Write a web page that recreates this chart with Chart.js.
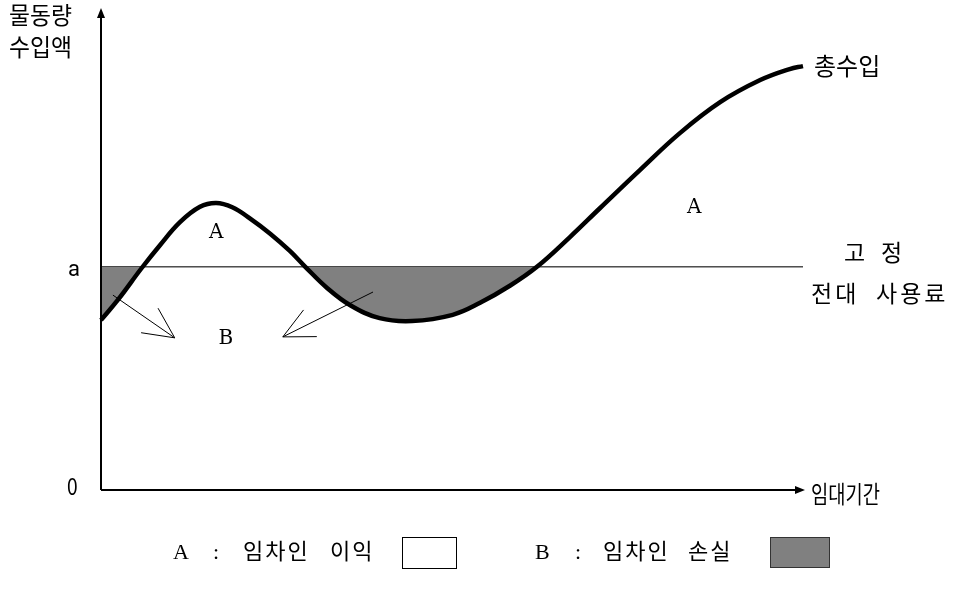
<!DOCTYPE html>
<html>
<head>
<meta charset="utf-8">
<script src="https://cdn.jsdelivr.net/npm/chart.js@4"></script>
<style>
  html, body { margin: 0; padding: 0; background: #fff; }
  #wrap { width: 963px; height: 599px; }
</style>
</head>
<body>
<div id="wrap"><canvas id="rentChart" width="963" height="599"></canvas></div>
<script>
// total revenue curve (lease period on x, revenue on y, both 0..100)
const periodX = [0, 2.4, 5.8, 8.4, 11.25, 14.1, 16.4, 18.7, 21.2, 24.1, 26.9, 29.1, 32.2, 35.5, 39.7, 44.3, 50.1, 54.0, 58.3, 62.1, 66.8, 71.1, 76.8, 82.5, 88.2, 93.9, 98.1, 100];
const revenueY = [35.4, 39.6, 46.25, 51.0, 55.8, 59.0, 59.8, 58.9, 56.6, 53.4, 49.8, 46.5, 42.1, 38.5, 35.8, 35.2, 36.5, 39.0, 42.6, 46.5, 52.7, 58.75, 66.7, 74.4, 80.8, 85.4, 87.7, 88.3];

// fixed sublease fee level "a"
const fixedFee = 46.5;

// pointer arrows toward "B" label: [fromX, fromY, toX, toY]
const lossArrows = [
  [1.7, 40.6, 10.5, 31.7],
  [38.75, 41.25, 25.9, 31.9]
];

const curveData = periodX.map((x, i) => ({ x: x, y: revenueY[i] }));
const feeData = [{ x: 0, y: fixedFee }, { x: 100, y: fixedFee }];

const SANS = '"Noto Sans CJK KR", "Noto Sans", sans-serif';
const SERIF = '"DejaVu Serif", serif';
const KSERIF = '"Liberation Serif", "Noto Sans CJK KR", serif';

// draw text squeezed horizontally
function narrowText(ctx, txt, x, y, sx) {
  ctx.save();
  ctx.translate(x, y);
  ctx.scale(sx, 1);
  ctx.fillText(txt, 0, 0);
  ctx.restore();
}

const decorPlugin = {
  id: "decor",
  afterDatasetsDraw(chart) {
    const ctx = chart.ctx;
    const xs = chart.scales.x;
    const ys = chart.scales.y;
    const x0 = xs.getPixelForValue(0);
    const y0 = ys.getPixelForValue(0);
    const xEnd = xs.getPixelForValue(100);
    const yTop = ys.getPixelForValue(100);

    ctx.save();
    // axes
    ctx.strokeStyle = "#000";
    ctx.fillStyle = "#000";
    ctx.lineWidth = 2;
    ctx.beginPath();
    ctx.moveTo(x0, y0);
    ctx.lineTo(x0, yTop + 4);
    ctx.moveTo(x0, y0);
    ctx.lineTo(xEnd - 4, y0);
    ctx.stroke();
    ctx.beginPath();
    ctx.moveTo(x0, yTop - 2);
    ctx.lineTo(x0 - 4, yTop + 8);
    ctx.lineTo(x0 + 4, yTop + 8);
    ctx.closePath();
    ctx.fill();
    ctx.beginPath();
    ctx.moveTo(xEnd + 2, y0);
    ctx.lineTo(xEnd - 8, y0 - 4);
    ctx.lineTo(xEnd - 8, y0 + 4);
    ctx.closePath();
    ctx.fill();

    // thin arrows
    ctx.lineWidth = 1;
    lossArrows.forEach(a => {
      const fx = xs.getPixelForValue(a[0]), fy = ys.getPixelForValue(a[1]);
      const tx = xs.getPixelForValue(a[2]), ty = ys.getPixelForValue(a[3]);
      const ang = Math.atan2(fy - ty, fx - tx);
      const len = 34, spread = 26 * Math.PI / 180;
      ctx.beginPath();
      ctx.moveTo(fx, fy);
      ctx.lineTo(tx, ty);
      ctx.moveTo(tx + len * Math.cos(ang - spread), ty + len * Math.sin(ang - spread));
      ctx.lineTo(tx, ty);
      ctx.lineTo(tx + len * Math.cos(ang + spread), ty + len * Math.sin(ang + spread));
      ctx.stroke();
    });

    // text
    ctx.textBaseline = "middle";
    ctx.textAlign = "left";
    ctx.font = "24px " + SANS;
    narrowText(ctx, "물동량", 9, 15, 0.95);
    narrowText(ctx, "수입액", 9, 47, 0.95);
    ctx.fillText("총수입", 814, 66);
    narrowText(ctx, "임대기간", 811, 494, 0.78);
    narrowText(ctx, "0", 67, 486, 0.8);

    ctx.font = "22px Roboto, sans-serif";
    ctx.fillText("a", 68, 270);

    ctx.font = "20px " + SERIF;
    ctx.textAlign = "center";
    ctx.fillText("A", xs.getPixelForValue(16.4), 233);
    ctx.fillText("A", xs.getPixelForValue(84.5), 208);
    ctx.fillText("B", xs.getPixelForValue(17.8), 339);

    ctx.font = "23px " + KSERIF;
    ctx.textAlign = "left";
    ctx.fillText("고", 844, 255);
    ctx.fillText("정", 881, 255);
    ctx.letterSpacing = "3px";
    ctx.fillText("전대", 811, 296);
    ctx.fillText("사용료", 876, 296);

    // legend
    ctx.font = "22px " + KSERIF;
    ctx.letterSpacing = "2px";
    ctx.fillText("A", 173, 553);
    ctx.fillText(":", 213, 553);
    ctx.fillText("임차인", 243, 553);
    ctx.fillText("이익", 330, 553);
    ctx.fillText("B", 535, 553);
    ctx.fillText(":", 575, 553);
    ctx.fillText("임차인", 603, 553);
    ctx.fillText("손실", 688, 553);
    ctx.letterSpacing = "0px";
    ctx.lineWidth = 1;
    ctx.strokeStyle = "#000";
    ctx.strokeRect(402.5, 537.5, 54, 31);
    ctx.fillStyle = "#808080";
    ctx.fillRect(770, 537, 60, 31);
    ctx.strokeStyle = "#333";
    ctx.strokeRect(770.5, 537.5, 59, 30);
    ctx.restore();
  }
};

new Chart(document.getElementById("rentChart"), {
  type: "line",
  data: {
    datasets: [
      {
        label: "총수입",
        data: curveData,
        borderColor: "#000",
        borderWidth: 4.5,
        pointRadius: 0,
        tension: 0.4,
        clip: false,
        fill: { target: { value: fixedFee }, above: "rgba(0,0,0,0)", below: "#808080" }
      },
      {
        label: "고정 전대 사용료",
        data: feeData,
        borderColor: "#444",
        borderWidth: 1.5,
        pointRadius: 0,
        fill: false,
        clip: false
      }
    ]
  },
  options: {
    responsive: false,
    animation: false,
    layout: { padding: { left: 101, right: 160, top: 10, bottom: 109 } },
    scales: {
      x: { type: "linear", min: 0, max: 100, display: false },
      y: { type: "linear", min: 0, max: 100, display: false }
    },
    plugins: {
      legend: { display: false },
      tooltip: { enabled: false }
    }
  },
  plugins: [decorPlugin]
});
</script>
</body>
</html>
